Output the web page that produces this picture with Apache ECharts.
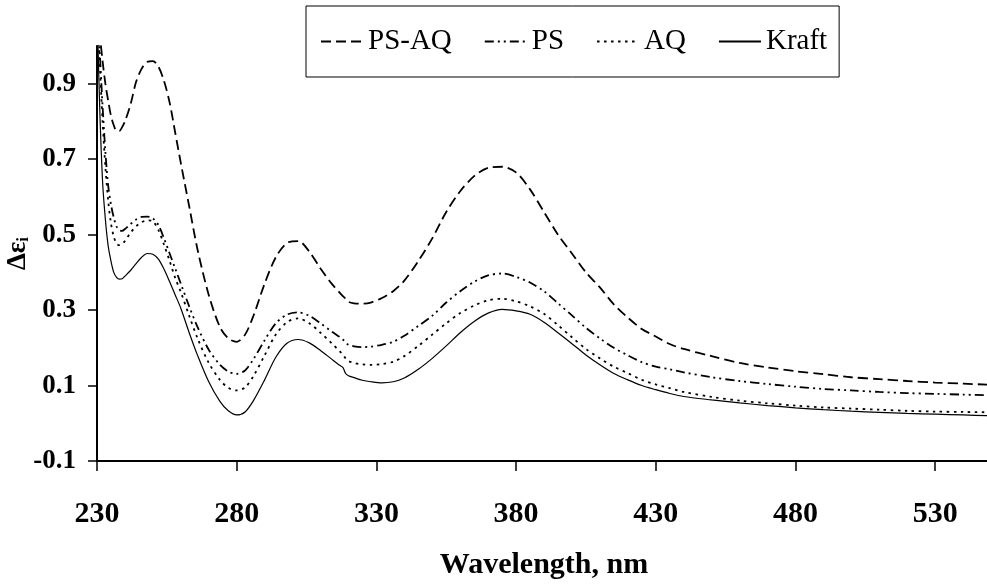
<!DOCTYPE html>
<html>
<head>
<meta charset="utf-8">
<script src="https://cdn.jsdelivr.net/npm/echarts@6/dist/echarts.min.js"></script>
<style>
html,body{margin:0;padding:0;background:#fff;}
#chart{width:987px;height:588px;}
</style>
</head>
<body>
<div id="chart"></div>
<script>
const wavelength = [230,231,232,233,234,235,236,237,238,239,240,242,244,246,248,250,252,254,256,258,260,263,266,270,274,277,280,283,286,290,294,298,302,306,310,314,317,318,319,320,322,325,328,332,336,340,345,350,355,360,365,370,375,380,385,390,395,400,405,410,415,420,425,430,435,440,450,460,470,480,490,500,510,520,530,540,550];

const psaq = [1.12,1.03,0.96,0.90,0.855,0.815,0.79,0.775,0.775,0.785,0.80,0.845,0.905,0.94,0.958,0.96,0.945,0.907,0.85,0.77,0.69,0.575,0.46,0.34,0.255,0.225,0.216,0.235,0.285,0.37,0.44,0.478,0.483,0.455,0.41,0.37,0.345,0.337,0.33,0.322,0.318,0.317,0.32,0.332,0.35,0.378,0.43,0.49,0.56,0.615,0.655,0.677,0.68,0.665,0.62,0.56,0.5,0.45,0.4,0.36,0.315,0.28,0.25,0.23,0.21,0.197,0.178,0.16,0.148,0.138,0.13,0.122,0.117,0.112,0.108,0.105,0.102];

const ps = [1.1,0.98,0.84,0.72,0.63,0.58,0.545,0.522,0.512,0.51,0.515,0.528,0.54,0.547,0.548,0.543,0.525,0.49,0.45,0.41,0.37,0.31,0.255,0.195,0.155,0.137,0.131,0.14,0.17,0.22,0.265,0.288,0.294,0.285,0.265,0.243,0.228,0.222,0.215,0.208,0.204,0.202,0.203,0.208,0.216,0.232,0.258,0.285,0.32,0.35,0.375,0.392,0.397,0.388,0.373,0.35,0.318,0.286,0.253,0.225,0.2,0.18,0.162,0.15,0.143,0.135,0.122,0.112,0.104,0.097,0.091,0.087,0.083,0.08,0.078,0.076,0.074];

const aq = [1.1,0.95,0.8,0.68,0.59,0.53,0.495,0.476,0.472,0.475,0.483,0.505,0.522,0.533,0.538,0.535,0.512,0.473,0.43,0.385,0.348,0.285,0.225,0.16,0.115,0.094,0.087,0.095,0.125,0.18,0.235,0.268,0.278,0.265,0.24,0.212,0.19,0.182,0.172,0.165,0.16,0.156,0.155,0.157,0.163,0.178,0.205,0.235,0.265,0.292,0.312,0.326,0.33,0.323,0.31,0.29,0.26,0.228,0.197,0.172,0.15,0.133,0.115,0.103,0.093,0.083,0.07,0.06,0.053,0.047,0.042,0.039,0.036,0.033,0.031,0.03,0.029];

const kraft = [1.1,0.83,0.64,0.54,0.47,0.43,0.4,0.387,0.382,0.383,0.39,0.405,0.423,0.44,0.45,0.448,0.435,0.408,0.375,0.34,0.305,0.24,0.18,0.11,0.058,0.033,0.022,0.03,0.06,0.115,0.175,0.212,0.222,0.213,0.193,0.17,0.153,0.148,0.132,0.126,0.121,0.114,0.11,0.107,0.11,0.12,0.143,0.172,0.205,0.24,0.27,0.292,0.302,0.298,0.289,0.268,0.24,0.211,0.181,0.155,0.132,0.115,0.1,0.089,0.079,0.071,0.062,0.054,0.047,0.041,0.036,0.032,0.029,0.026,0.024,0.022,0.02];

const xTicks = [230,280,330,380,430,480,530];
const yTicks = [-0.1,0.1,0.3,0.5,0.7,0.9];
const seriesNames = ['PS-AQ','PS','AQ','Kraft'];

function pairs(vals){ return wavelength.map((w,i)=>[w, vals[i]]); }

const serif = 'Liberation Serif, Times New Roman, serif';
const chart = echarts.init(document.getElementById('chart'), null, {renderer:'canvas'});

const styles = [
  {type:[10,5], width:1.8},
  {type:[9,4,2,4,2,4], width:1.8},
  {type:[2.5,4.5], width:1.8},
  {type:'solid', width:1.2}
];
const datasets = [psaq, ps, aq, kraft];

chart.setOption({
  animation:false,
  backgroundColor:'#fff',
  grid:{left:97, right:-4, top:46, bottom:127, containLabel:false, outerBoundsMode:'none'},
  legend:{
    left:306, top:6,
    data: seriesNames,
    itemWidth:42, itemHeight:20, itemGap:32,
    padding:[21,12,21,14],
    borderColor:'#000', borderWidth:1,
    itemStyle:{opacity:0},
    textStyle:{fontFamily:serif, fontSize:29, color:'#000'}
  },
  xAxis:{
    type:'value', min:230, max:550, interval:50,
    axisLine:{onZero:false, lineStyle:{color:'#000', width:2}},
    axisTick:{show:true, length:10, lineStyle:{color:'#000', width:1.5}, customValues:xTicks},
    axisLabel:{customValues:xTicks, margin:38, fontFamily:serif, fontWeight:'bold', fontSize:30, color:'#000'},
    splitLine:{show:false},
    name:'Wavelength, nm', nameLocation:'middle', nameGap:89, nameMoveOverlap:false,
    nameTextStyle:{fontFamily:serif, fontWeight:'bold', fontSize:30, color:'#000'}
  },
  yAxis:{
    type:'value', min:-0.1, max:1.0, interval:0.2,
    axisLine:{show:true, onZero:false, lineStyle:{color:'#000', width:2}},
    axisTick:{show:true, length:9, lineStyle:{color:'#000', width:1.5}, customValues:yTicks},
    axisLabel:{customValues:yTicks, margin:21, fontFamily:serif, fontWeight:'bold', fontSize:27, color:'#000',
      formatter:(v)=>Number(v).toFixed(1)},
    splitLine:{show:false},
    name:'Δε{sub|i}', nameLocation:'middle', nameGap:65, nameRotate:90, nameMoveOverlap:false,
    nameTextStyle:{fontFamily:serif, fontWeight:'bold', fontSize:27, color:'#000',
      rich:{sub:{fontFamily:serif, fontWeight:'bold', fontSize:17, color:'#000', verticalAlign:'bottom', padding:[10,0,0,0]}}}
  },
  series: seriesNames.map((n,i)=>({
    name:n, type:'line', data:pairs(datasets[i]),
    symbol:'none', smooth:0.3, clip:true,
    lineStyle:{color:'#000', type:styles[i].type, width:styles[i].width},
    itemStyle:{color:'#000'}
  }))
});
</script>
</body>
</html>
